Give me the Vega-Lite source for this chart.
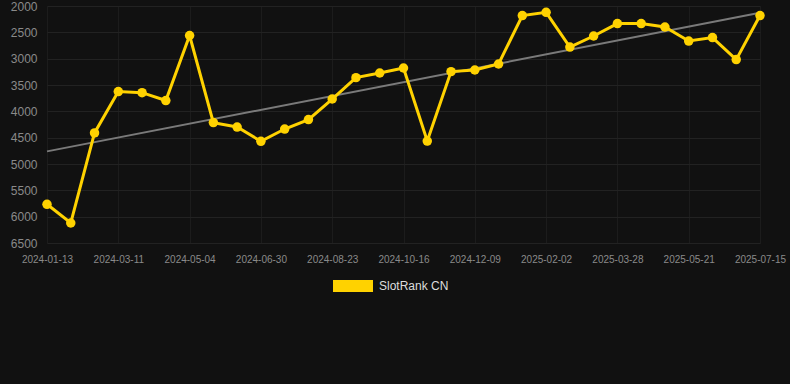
{
  "$schema": "https://vega.github.io/schema/vega-lite/v6.json",
  "width": 748,
  "height": 237,
  "autosize": "none",
  "padding": {"left": 42, "top": 6, "right": 0, "bottom": 141},
  "background": "#111111",
  "config": {
    "view": {"stroke": null},
    "font": "Liberation Sans"
  },
  "datasets": {
    "rank": [
      {"date": "2024-01-13", "rank": 5765, "series": "SlotRank CN"},
      {"date": "2024-01-31", "rank": 6120, "series": "SlotRank CN"},
      {"date": "2024-02-20", "rank": 4410, "series": "SlotRank CN"},
      {"date": "2024-03-11", "rank": 3625, "series": "SlotRank CN"},
      {"date": "2024-03-29", "rank": 3645, "series": "SlotRank CN"},
      {"date": "2024-04-16", "rank": 3795, "series": "SlotRank CN"},
      {"date": "2024-05-04", "rank": 2560, "series": "SlotRank CN"},
      {"date": "2024-05-23", "rank": 4214, "series": "SlotRank CN"},
      {"date": "2024-06-11", "rank": 4298, "series": "SlotRank CN"},
      {"date": "2024-06-30", "rank": 4569, "series": "SlotRank CN"},
      {"date": "2024-07-18", "rank": 4336, "series": "SlotRank CN"},
      {"date": "2024-08-05", "rank": 4157, "series": "SlotRank CN"},
      {"date": "2024-08-23", "rank": 3766, "series": "SlotRank CN"},
      {"date": "2024-09-10", "rank": 3360, "series": "SlotRank CN"},
      {"date": "2024-09-28", "rank": 3272, "series": "SlotRank CN"},
      {"date": "2024-10-16", "rank": 3177, "series": "SlotRank CN"},
      {"date": "2024-11-03", "rank": 4564, "series": "SlotRank CN"},
      {"date": "2024-11-21", "rank": 3246, "series": "SlotRank CN"},
      {"date": "2024-12-09", "rank": 3215, "series": "SlotRank CN"},
      {"date": "2024-12-27", "rank": 3101, "series": "SlotRank CN"},
      {"date": "2025-01-14", "rank": 2182, "series": "SlotRank CN"},
      {"date": "2025-02-02", "rank": 2120, "series": "SlotRank CN"},
      {"date": "2025-02-20", "rank": 2779, "series": "SlotRank CN"},
      {"date": "2025-03-10", "rank": 2570, "series": "SlotRank CN"},
      {"date": "2025-03-28", "rank": 2334, "series": "SlotRank CN"},
      {"date": "2025-04-15", "rank": 2334, "series": "SlotRank CN"},
      {"date": "2025-05-03", "rank": 2399, "series": "SlotRank CN"},
      {"date": "2025-05-21", "rank": 2665, "series": "SlotRank CN"},
      {"date": "2025-06-08", "rank": 2600, "series": "SlotRank CN"},
      {"date": "2025-06-26", "rank": 3018, "series": "SlotRank CN"},
      {"date": "2025-07-15", "rank": 2182, "series": "SlotRank CN"}
    ],
    "trend": [
      {"date": "2024-01-13", "rank": 4760},
      {"date": "2025-07-15", "rank": 2130}
    ]
  },
  "encoding": {
    "x": {
      "field": "date",
      "type": "ordinal",
      "sort": "ascending",
      "scale": {"type": "point", "range": [5, 718], "padding": 0},
      "axis": {
        "title": null,
        "values": ["2024-01-13", "2024-03-11", "2024-05-04", "2024-06-30", "2024-08-23", "2024-10-16", "2024-12-09", "2025-02-02", "2025-03-28", "2025-05-21", "2025-07-15"],
        "labelAngle": 0,
        "labelFontSize": 10,
        "labelColor": "#8a8a8a",
        "labelPadding": 11,
        "ticks": false,
        "domain": false,
        "grid": true,
        "gridColor": "#1c1c1c",
        "gridWidth": 1
      }
    },
    "y": {
      "field": "rank",
      "type": "quantitative",
      "scale": {"domain": [2000, 6500], "reverse": true, "nice": false, "zero": false},
      "axis": {
        "title": null,
        "format": "d",
        "values": [2000, 2500, 3000, 3500, 4000, 4500, 5000, 5500, 6000, 6500],
        "labelFontSize": 12,
        "labelColor": "#8a8a8a",
        "labelPadding": 5,
        "ticks": false,
        "domain": false,
        "grid": true,
        "gridColor": "#222222",
        "gridWidth": 1
      }
    }
  },
  "layer": [
    {
      "data": {"name": "trend"},
      "mark": {"type": "line", "color": "#7a7a7a", "strokeWidth": 2},
      "encoding": {}
    },
    {
      "data": {"name": "rank"},
      "mark": {"type": "line", "strokeWidth": 3},
      "encoding": {
        "color": {
          "field": "series",
          "type": "nominal",
          "scale": {"range": ["#FFD200"]},
          "legend": {
            "title": null,
            "orient": "none",
            "legendX": 291,
            "legendY": 260,
            "symbolType": "M-1,-0.3H1V0.3H-1Z",
            "symbolSize": 1600,
            "symbolFillColor": "#FFD200",
            "symbolStrokeColor": "#FFD200",
            "symbolStrokeWidth": 0,
            "symbolOpacity": 1,
            "labelColor": "#dddddd",
            "labelFontSize": 12,
            "labelOffset": 6
          }
        }
      }
    },
    {
      "data": {"name": "rank"},
      "mark": {"type": "circle", "size": 90, "opacity": 1, "color": "#FFD200"},
      "encoding": {}
    }
  ]
}
